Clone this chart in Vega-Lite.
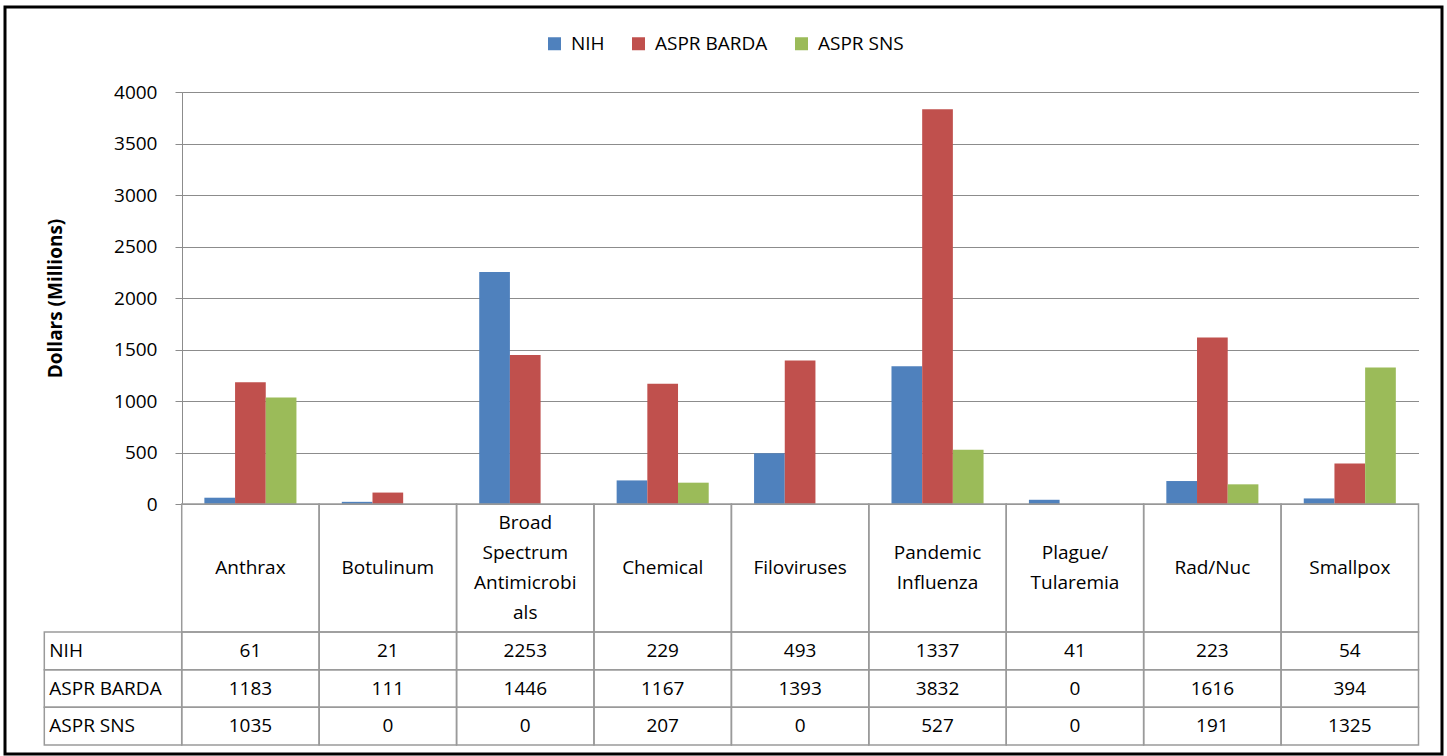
{
  "$schema": "https://vega.github.io/schema/vega-lite/v6.json",
  "width": 1437,
  "height": 747,
  "autosize": {"type": "none"},
  "padding": {"left": 5, "top": 7, "right": 5, "bottom": 2},
  "background": "white",
  "config": {
    "view": {"stroke": "black", "strokeWidth": 3},
    "font": "Open Sans"
  },
  "datasets": {
    "funding": [
      {"category": "Anthrax", "series": "NIH", "value": 61},
      {"category": "Botulinum", "series": "NIH", "value": 21},
      {"category": "Broad Spectrum Antimicrobials", "series": "NIH", "value": 2253},
      {"category": "Chemical", "series": "NIH", "value": 229},
      {"category": "Filoviruses", "series": "NIH", "value": 493},
      {"category": "Pandemic Influenza", "series": "NIH", "value": 1337},
      {"category": "Plague/Tularemia", "series": "NIH", "value": 41},
      {"category": "Rad/Nuc", "series": "NIH", "value": 223},
      {"category": "Smallpox", "series": "NIH", "value": 54},
      {"category": "Anthrax", "series": "ASPR BARDA", "value": 1183},
      {"category": "Botulinum", "series": "ASPR BARDA", "value": 111},
      {"category": "Broad Spectrum Antimicrobials", "series": "ASPR BARDA", "value": 1446},
      {"category": "Chemical", "series": "ASPR BARDA", "value": 1167},
      {"category": "Filoviruses", "series": "ASPR BARDA", "value": 1393},
      {"category": "Pandemic Influenza", "series": "ASPR BARDA", "value": 3832},
      {"category": "Plague/Tularemia", "series": "ASPR BARDA", "value": 0},
      {"category": "Rad/Nuc", "series": "ASPR BARDA", "value": 1616},
      {"category": "Smallpox", "series": "ASPR BARDA", "value": 394},
      {"category": "Anthrax", "series": "ASPR SNS", "value": 1035},
      {"category": "Botulinum", "series": "ASPR SNS", "value": 0},
      {"category": "Broad Spectrum Antimicrobials", "series": "ASPR SNS", "value": 0},
      {"category": "Chemical", "series": "ASPR SNS", "value": 207},
      {"category": "Filoviruses", "series": "ASPR SNS", "value": 0},
      {"category": "Pandemic Influenza", "series": "ASPR SNS", "value": 527},
      {"category": "Plague/Tularemia", "series": "ASPR SNS", "value": 0},
      {"category": "Rad/Nuc", "series": "ASPR SNS", "value": 191},
      {"category": "Smallpox", "series": "ASPR SNS", "value": 1325}
    ],
    "cats": [
      {"category": "Anthrax", "label": ["Anthrax"]},
      {"category": "Botulinum", "label": ["Botulinum"]},
      {"category": "Broad Spectrum Antimicrobials", "label": ["Broad", "Spectrum", "Antimicrobi", "als"]},
      {"category": "Chemical", "label": ["Chemical"]},
      {"category": "Filoviruses", "label": ["Filoviruses"]},
      {"category": "Pandemic Influenza", "label": ["Pandemic", "Influenza"]},
      {"category": "Plague/Tularemia", "label": ["Plague/", "Tularemia"]},
      {"category": "Rad/Nuc", "label": ["Rad/Nuc"]},
      {"category": "Smallpox", "label": ["Smallpox"]}
    ],
    "rows": [
      {"category": "Series", "series": "NIH"},
      {"category": "Series", "series": "ASPR BARDA"},
      {"category": "Series", "series": "ASPR SNS"}
    ]
  },
  "layer": [
    {
      "data": {"name": "funding"},
      "mark": {"type": "bar"},
      "encoding": {
        "x": {
          "field": "category", "type": "nominal", "sort": null,
          "scale": {
            "domain": ["Anthrax", "Botulinum", "Broad Spectrum Antimicrobials", "Chemical", "Filoviruses", "Pandemic Influenza", "Plague/Tularemia", "Rad/Nuc", "Smallpox"],
            "range": [176.7, 1413.5], "paddingInner": 0.33, "paddingOuter": 0.165
          },
          "axis": null
        },
        "xOffset": {
          "field": "series", "type": "nominal",
          "scale": {"domain": ["NIH", "ASPR BARDA", "ASPR SNS"], "paddingInner": 0, "paddingOuter": 0}
        },
        "y": {
          "field": "value", "type": "quantitative",
          "scale": {"domain": [0, 4000], "range": [497, 85], "nice": false},
          "axis": {
            "orient": "left", "offset": -177, "format": "d",
            "values": [0, 500, 1000, 1500, 2000, 2500, 3000, 3500, 4000],
            "grid": true, "gridColor": "#8c8c8c", "gridWidth": 1,
            "domainColor": "#8c8c8c", "tickColor": "#8c8c8c", "tickSize": 7,
            "labelPadding": 18, "labelFontSize": 19, "labelFont": "Open Sans", "labelColor": "black",
            "title": "Dollars  (Millions)", "titleFontSize": 19, "titleFontWeight": "bold",
            "titleFont": "Open Sans", "titleColor": "black", "titleX": -127, "titleBaseline": "middle"
          }
        },
        "color": {
          "field": "series", "type": "nominal",
          "scale": {"domain": ["NIH", "ASPR BARDA", "ASPR SNS"], "range": ["#4F81BD", "#C0504D", "#9BBB59"]},
          "legend": {
            "orient": "none", "legendX": 540, "legendY": 27, "direction": "horizontal",
            "title": null, "symbolType": "square", "symbolSize": 169, "symbolStrokeWidth": 0,
            "labelFontSize": 19, "labelFont": "Open Sans", "labelColor": "black",
            "columnPadding": 24, "labelOffset": 7
          }
        }
      }
    },
    {
      "data": {"name": "cats"},
      "encoding": {
        "x": {
          "field": "category", "type": "nominal", "sort": null,
          "scale": {
            "domain": ["Series", "Anthrax", "Botulinum", "Broad Spectrum Antimicrobials", "Chemical", "Filoviruses", "Pandemic Influenza", "Plague/Tularemia", "Rad/Nuc", "Smallpox"],
            "range": [39.3, 1413.5], "paddingInner": 0, "paddingOuter": 0
          },
          "axis": null
        },
        "y": {
          "datum": "labels", "type": "nominal",
          "scale": {"domain": ["labels"], "range": [497, 625], "paddingInner": 0, "paddingOuter": 0},
          "axis": null
        }
      },
      "layer": [
        {"mark": {"type": "rect", "fill": "transparent", "stroke": "#9a9a9a", "strokeWidth": 1.5}},
        {
          "transform": [{"filter": "length(datum.label) == 1"}],
          "mark": {"type": "text", "fontSize": 19, "lineHeight": 30, "font": "Open Sans", "color": "black", "baseline": "middle"},
          "encoding": {"text": {"field": "label"}}
        },
        {
          "transform": [{"filter": "length(datum.label) == 2"}],
          "mark": {"type": "text", "fontSize": 19, "lineHeight": 30, "font": "Open Sans", "color": "black", "baseline": "middle", "dy": -15},
          "encoding": {"text": {"field": "label"}}
        },
        {
          "transform": [{"filter": "length(datum.label) == 4"}],
          "mark": {"type": "text", "fontSize": 19, "lineHeight": 30, "font": "Open Sans", "color": "black", "baseline": "middle", "dy": -45},
          "encoding": {"text": {"field": "label"}}
        }
      ]
    },
    {
      "encoding": {
        "x": {
          "field": "category", "type": "nominal", "sort": null,
          "scale": {
            "domain": ["Series", "Anthrax", "Botulinum", "Broad Spectrum Antimicrobials", "Chemical", "Filoviruses", "Pandemic Influenza", "Plague/Tularemia", "Rad/Nuc", "Smallpox"],
            "range": [39.3, 1413.5], "paddingInner": 0, "paddingOuter": 0
          },
          "axis": null
        },
        "y": {
          "field": "series", "type": "nominal", "sort": null,
          "scale": {"domain": ["NIH", "ASPR BARDA", "ASPR SNS"], "range": [625, 738], "paddingInner": 0, "paddingOuter": 0},
          "axis": null
        }
      },
      "layer": [
        {"data": {"name": "funding"}, "mark": {"type": "rect", "fill": "transparent", "stroke": "#9a9a9a", "strokeWidth": 1.5}},
        {
          "data": {"name": "funding"},
          "mark": {"type": "text", "fontSize": 19, "font": "Open Sans", "color": "black", "baseline": "middle"},
          "encoding": {"text": {"field": "value", "type": "quantitative", "format": "d"}}
        },
        {"data": {"name": "rows"}, "mark": {"type": "rect", "fill": "transparent", "stroke": "#9a9a9a", "strokeWidth": 1.5}},
        {
          "data": {"name": "rows"},
          "mark": {"type": "text", "fontSize": 19, "font": "Open Sans", "color": "black", "baseline": "middle", "align": "left", "dx": 5},
          "encoding": {
            "x": {"field": "category", "type": "nominal", "bandPosition": 0},
            "text": {"field": "series"}
          }
        }
      ]
    }
  ],
  "resolve": {"scale": {"x": "independent", "y": "independent"}}
}
